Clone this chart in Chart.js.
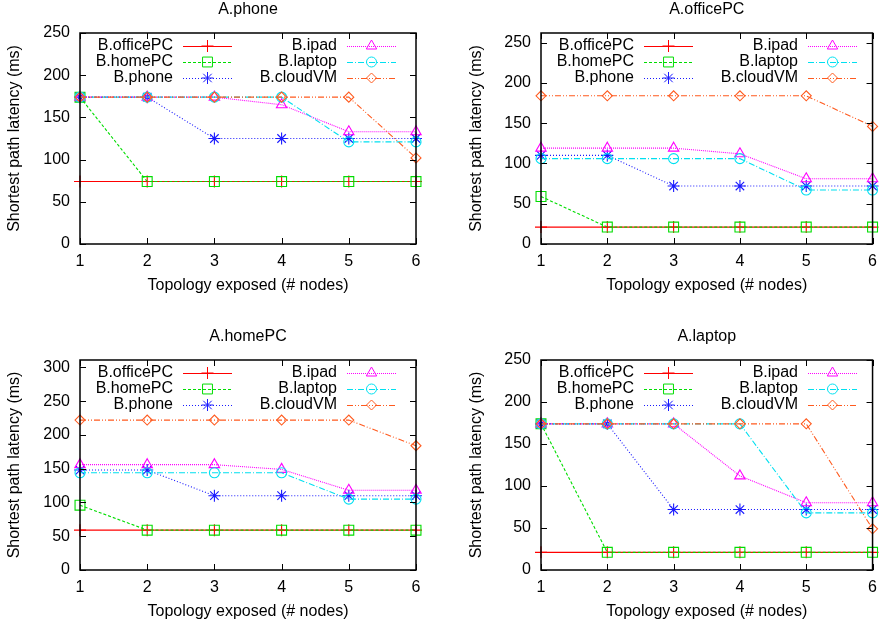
<!DOCTYPE html>
<html>
<head>
    <title>Shortest path latency</title>
    <meta charset="UTF-8">
    <script src="https://cdn.jsdelivr.net/npm/chart.js@4.4.1/dist/chart.umd.min.js"></script>
    <style>
        body { margin: 0; background: #fff; }
        #wrap { position: relative; width: 885px; height: 622px; }
        canvas { position: absolute; }
    </style>
</head>
<body>
<div id="wrap">
    <canvas id="c0" width="442" height="310" style="left:0;top:0"></canvas>
    <canvas id="c1" width="443" height="310" style="left:442px;top:0"></canvas>
    <canvas id="c2" width="442" height="312" style="left:0;top:310px"></canvas>
    <canvas id="c3" width="443" height="312" style="left:442px;top:310px"></canvas>
</div>

<script>
    // x values: number of nodes exposed
    var nodes = [1, 2, 3, 4, 5, 6];
    var series = ['B.officePC', 'B.homePC', 'B.phone', 'B.ipad', 'B.laptop', 'B.cloudVM'];
    var titles = ['A.phone', 'A.officePC', 'A.homePC', 'A.laptop'];

    // one row per series, same order as "series"
    var aPhone = [
        [74, 74, 74, 74, 74, 74],
        [174, 74, 74, 74, 74, 74],
        [174, 174, 125, 125, 125, 125],
        [174, 174, 174, 165, 133, 133],
        [174, 174, 174, 174, 121, 121],
        [174, 174, 174, 174, 174, 102]
    ];
    var aOfficePC = [
        [21, 21, 21, 21, 21, 21],
        [59, 21, 21, 21, 21, 21],
        [110, 110, 72, 72, 72, 72],
        [119, 119, 119, 112, 81, 81],
        [106, 106, 106, 106, 67, 67],
        [184, 184, 184, 184, 184, 146]
    ];
    var aHomePC = [
        [59, 59, 59, 59, 59, 59],
        [96, 59, 59, 59, 59, 59],
        [148, 148, 110, 110, 110, 110],
        [156, 156, 156, 149, 118, 118],
        [144, 144, 144, 144, 105, 105],
        [222, 222, 222, 222, 222, 184]
    ];
    var aLaptop = [
        [21, 21, 21, 21, 21, 21],
        [174, 21, 21, 21, 21, 21],
        [174, 174, 72, 72, 72, 72],
        [174, 174, 174, 112, 80, 80],
        [174, 174, 174, 174, 68, 68],
        [174, 174, 174, 174, 174, 49]
    ];
    var panels = [aPhone, aOfficePC, aHomePC, aLaptop];

    var yTicks250 = [0, 50, 100, 150, 200, 250];
    var yTicks300 = [0, 50, 100, 150, 200, 250, 300];
    var yTicks = [yTicks250, yTicks250, yTicks300, yTicks250];
    var yMax = [250, 262, 311, 250];

    // gnuplot-like line types
    var colors = ['#ff0000', '#00dd00', '#1a1aff', '#ff00ff', '#00e0f0', '#ff5a1e'];
    var dashes = [[], [3, 2], [1, 2], [1, 1], [6, 2, 1, 2], [6, 2, 1, 2, 1, 2]];
    var marks = ['cross', 'rect', 'star', 'triangle', 'circle', 'rectRot'];
    var radii = [6, 7, 6, 6, 5, 5];

    // where each plot sits inside its canvas
    var boxes = [
        { pad: { left: 0, right: 26, top: 0, bottom: 15 }, titleGap: 13.8, yw: 80 },
        { pad: { left: 20, right: 8, top: 0, bottom: 15 }, titleGap: 13.8, yw: 79 },
        { pad: { left: 0, right: 26, top: 17, bottom: 1 }, titleGap: 13.8, yw: 80 },
        { pad: { left: 20, right: 8, top: 17, bottom: 1 }, titleGap: 13.8, yw: 79 }
    ];

    var FONT = { family: '"Liberation Sans", Arial, sans-serif', size: 16, weight: 'normal' };
    Chart.defaults.font.family = FONT.family;
    Chart.defaults.color = '#000';

    // border, inward ticks and the gnuplot style key
    var frame = {
        id: 'frame',
        afterDatasetsDraw: function (chart) {
            var ctx = chart.ctx, a = chart.chartArea;
            var xs = chart.scales.x, ys = chart.scales.y;
            ctx.save();
            ctx.strokeStyle = '#000';
            ctx.lineWidth = 1;
            ctx.beginPath();
            ys.ticks.forEach(function (t) {
                var py = Math.round(ys.getPixelForValue(t.value)) + 0.5;
                ctx.moveTo(a.left, py); ctx.lineTo(a.left + 6, py);
                ctx.moveTo(a.right, py); ctx.lineTo(a.right - 6, py);
            });
            xs.ticks.forEach(function (t, i) {
                var px = Math.round(xs.getPixelForTick(i)) + 0.5;
                ctx.moveTo(px, a.bottom); ctx.lineTo(px, a.bottom - 6);
                ctx.moveTo(px, a.top); ctx.lineTo(px, a.top + 6);
            });
            ctx.stroke();
            ctx.lineWidth = 1.5;
            ctx.strokeRect(a.left, a.top, a.right - a.left, a.bottom - a.top);

            ctx.font = '16px ' + FONT.family;
            ctx.textAlign = 'right';
            ctx.textBaseline = 'middle';
            chart.data.datasets.forEach(function (ds, i) {
                var col = Math.floor(i / 3), row = i % 3;
                var ly = a.top + 13 + 16 * row;
                var tx = a.left + (col ? 257 : 93);
                ctx.fillStyle = '#000';
                ctx.fillText(ds.label, tx, ly);
                var x0 = tx + 10, x1 = x0 + 49;
                ctx.strokeStyle = ds.borderColor;
                ctx.lineWidth = 1;
                ctx.setLineDash(ds.borderDash);
                ctx.beginPath();
                ctx.moveTo(x0, ly + 0.5);
                ctx.lineTo(x1, ly + 0.5);
                ctx.stroke();
                ctx.setLineDash([]);
                ctx.fillStyle = 'rgba(0,0,0,0)';
                Chart.helpers.drawPoint(ctx, { pointStyle: ds.pointStyle, radius: ds.pointRadius, rotation: 0, borderWidth: 1 }, (x0 + x1) / 2, ly);
            });
            ctx.restore();
        }
    };

    function makeChart(k) {
        var rows = panels[k], box = boxes[k];
        var datasets = series.map(function (name, i) {
            return {
                label: name,
                data: rows[i],
                borderColor: colors[i],
                borderWidth: 1.1,
                borderDash: dashes[i],
                pointStyle: marks[i],
                pointRadius: radii[i],
                pointBorderColor: colors[i],
                pointBackgroundColor: 'rgba(0,0,0,0)',
                pointBorderWidth: 1.1,
                fill: false,
                tension: 0,
                clip: false,
                order: series.length - i
            };
        });

        new Chart(document.getElementById('c' + k), {
            type: 'line',
            data: { labels: nodes, datasets: datasets },
            options: {
                responsive: false,
                animation: false,
                events: [],
                layout: { padding: box.pad },
                plugins: {
                    legend: { display: false },
                    tooltip: { enabled: false },
                    title: {
                        display: true,
                        fullSize: false,
                        text: titles[k],
                        color: '#000',
                        font: FONT,
                        padding: { top: 0, bottom: box.titleGap }
                    }
                },
                scales: {
                    x: {
                        offset: false,
                        grid: { display: false, drawTicks: false },
                        border: { display: false },
                        ticks: { color: '#000', font: FONT, padding: 8, maxRotation: 0 },
                        title: { display: true, text: 'Topology exposed (# nodes)', color: '#000', font: FONT, padding: 0 },
                        afterFit: function (s) { s.height = 51; }
                    },
                    y: {
                        min: 0,
                        max: yMax[k],
                        grid: { display: false, drawTicks: false },
                        border: { display: false },
                        ticks: { color: '#000', font: FONT, padding: 10 },
                        afterBuildTicks: function (s) {
                            s.ticks = yTicks[k].map(function (v) { return { value: v }; });
                        },
                        title: { display: true, text: 'Shortest path latency (ms)', color: '#000', font: FONT, padding: { top: 5.4, bottom: 0 } },
                        afterFit: function (s) { s.width = box.yw; }
                    }
                }
            },
            plugins: [frame]
        });
    }

    for (var k = 0; k < 4; k++) makeChart(k);
</script>
</body>
</html>
